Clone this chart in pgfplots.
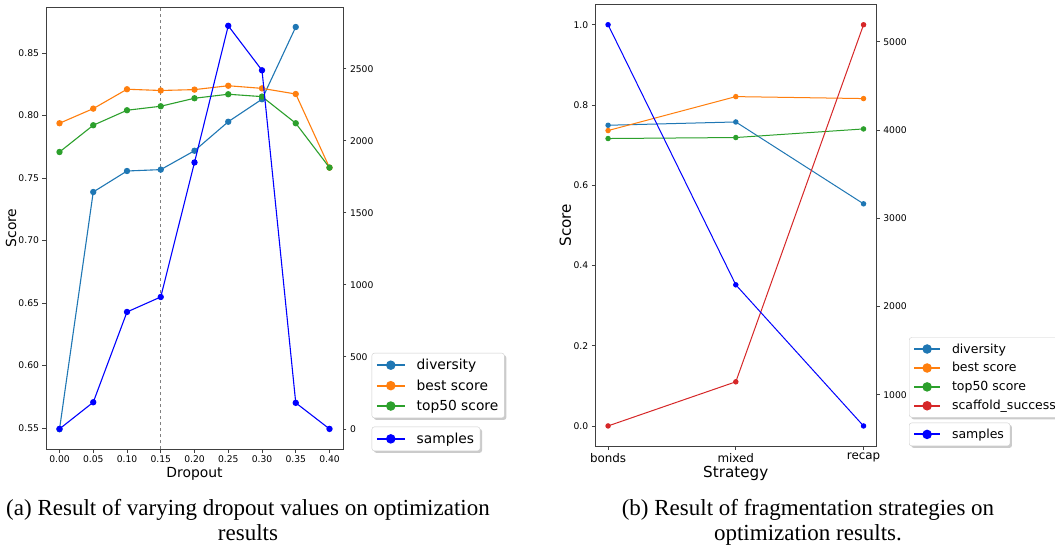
\documentclass[border=0pt]{standalone}
\usepackage{pgfplots}
\pgfplotsset{compat=1.18}
\usepackage{fontspec}
\setmainfont{DejaVu Sans}
\newfontfamily\capfont{Liberation Serif}
\usetikzlibrary{shadows}
\definecolor{tabblue}{HTML}{1F77B4}
\definecolor{taborange}{HTML}{FF7F0E}
\definecolor{tabgreen}{HTML}{2CA02C}
\definecolor{tabred}{HTML}{D62728}
\definecolor{pureblue}{HTML}{0000FF}
\definecolor{spine}{gray}{0.25}
\makeatletter
\tikzset{nopre/.code={\def\tikz@preactions{}}}
\makeatother

\pgfplotsset{
  mplbase/.style={
    scale only axis,
    /pgf/number format/assume math mode=true,
    /pgf/number format/1000 sep={},
    tick align=outside,
    major tick length=3.5pt,
    every tick/.style={spine, line width=0.8pt},
    axis line style={spine, line width=0.8pt},
    scaled ticks=false,
    legend cell align=left,
    legend image post style={line width=1.8pt, mark size=3.8pt},
    legend style={draw=black!20, fill=white, rounded corners=2.5pt,
      drop shadow={shadow xshift=2pt, shadow yshift=-2pt, fill=black!40},
      anchor=north west, inner xsep=4pt, inner ysep=4pt,
      nodes={nopre},
      /tikz/every odd column/.append style={column sep=9pt}},
  },
  hlen/.style={legend image code/.code={\draw[nopre, mark repeat=2,mark phase=2] plot coordinates {(0pt,0pt) (#1/2,0pt) (#1,0pt)};}},
  ser/.style={color=#1, line width=1.1pt, mark=*, mark size=2.6pt, mark options={solid, fill=#1}},
  sers/.style={color=#1, line width=1.0pt, mark=*, mark size=2.2pt, mark options={solid, fill=#1}},
}

\begin{document}
\begin{tikzpicture}
\useasboundingbox (0,0) rectangle (1055pt,544pt);
\fill[white] (0,0) rectangle (1055pt,544pt);

% ---------------- left plot ----------------
\begin{axis}[mplbase, hlen=28pt,
  at={(46pt,95pt)}, anchor=south west, width=297pt, height=442pt,
  xmin=-0.02, xmax=0.42, ymin=0.5332, ymax=0.8868,
  tick pos=left,
  xtick={0,0.05,0.1,0.15,0.2,0.25,0.3,0.35,0.4},
  ytick={0.55,0.6,0.65,0.7,0.75,0.8,0.85},
  x tick label style={/pgf/number format/fixed, /pgf/number format/fixed zerofill, /pgf/number format/precision=2, font=\fontsize{9.2}{11}\selectfont},
  y tick label style={/pgf/number format/fixed, /pgf/number format/fixed zerofill, /pgf/number format/precision=2, font=\fontsize{9.2}{11}\selectfont},
  xlabel={Dropout}, ylabel={Score},
  xlabel style={at={(axis description cs:0.5,-0.057)}, anchor=center, font=\fontsize{13.9}{16}\selectfont},
  ylabel style={at={(axis description cs:-0.118,0.5)}, anchor=center, font=\fontsize{13.9}{16}\selectfont},
  legend style={at={(1.0966,0.2172)}, font=\fontsize{13.8}{16}\selectfont, row sep=4.5pt},
]
\addplot[gray, dashed, line width=1pt, forget plot] coordinates {(0.15,0.5332) (0.15,0.8868)};
\addplot[ser=tabblue] coordinates {(0,0.549) (0.05,0.7388) (0.1,0.7556) (0.15,0.7567) (0.2,0.7718) (0.25,0.795) (0.3,0.813) (0.35,0.8708)};
\addlegendentry{diversity}
\addplot[ser=taborange] coordinates {(0,0.7938) (0.05,0.8055) (0.1,0.821) (0.15,0.820) (0.2,0.8207) (0.25,0.8238) (0.3,0.8217) (0.35,0.8172) (0.4,0.7583)};
\addlegendentry{best score}
\addplot[ser=tabgreen] coordinates {(0,0.7708) (0.05,0.7922) (0.1,0.8042) (0.15,0.8074) (0.2,0.8138) (0.25,0.817) (0.3,0.8151) (0.35,0.7938) (0.4,0.7583)};
\addlegendentry{top50 score}
\end{axis}

\begin{axis}[mplbase, hlen=28pt,
  at={(46pt,95pt)}, anchor=south west, width=297pt, height=442pt,
  xmin=-0.02, xmax=0.42, ymin=-139.5, ymax=2929.5,
  axis y line*=right, axis x line=none,
  ytick={0,500,1000,1500,2000,2500},
  y tick label style={font=\fontsize{9.2}{11}\selectfont},
  legend style={at={(1.0966,0.0505)}, font=\fontsize{13.8}{16}\selectfont},
]
\addplot[ser=pureblue] coordinates {(0,0) (0.05,185) (0.1,812) (0.15,916) (0.2,1850) (0.25,2799) (0.3,2490) (0.35,181) (0.4,0)};
\addlegendentry{samples}
\end{axis}

% ---------------- right plot ----------------
\begin{axis}[mplbase, hlen=26pt,
  at={(595.3pt,98pt)}, anchor=south west, width=281pt, height=441.3pt,
  xmin=-0.1, xmax=2.1, ymin=-0.05, ymax=1.05,
  tick pos=left,
  xtick={0,1,2}, xticklabels={bonds,mixed,recap},
  ytick={0,0.2,0.4,0.6,0.8,1.0},
  x tick label style={font=\fontsize{11.9}{14}\selectfont},
  y tick label style={/pgf/number format/fixed, /pgf/number format/fixed zerofill, /pgf/number format/precision=1, font=\fontsize{9.2}{11}\selectfont},
  xlabel={Strategy}, ylabel={Score},
  xlabel style={at={(axis description cs:0.5,-0.063)}, anchor=center, font=\fontsize{15.2}{18}\selectfont},
  ylabel style={at={(axis description cs:-0.107,0.5)}, anchor=center, font=\fontsize{15.2}{18}\selectfont},
  legend style={at={(1.1164,0.2463)}, font=\fontsize{12.5}{15}\selectfont, row sep=4pt},
]
\addplot[sers=tabblue] coordinates {(0,0.7495) (1,0.7577) (2,0.5537)};
\addlegendentry{diversity}
\addplot[sers=taborange] coordinates {(0,0.7363) (1,0.8209) (2,0.816)};
\addlegendentry{best score}
\addplot[sers=tabgreen] coordinates {(0,0.7164) (1,0.7189) (2,0.7403)};
\addlegendentry{top50 score}
\addplot[sers=tabred] coordinates {(0,0) (1,0.110) (2,1.0)};
\addlegendentry{scaffold\_success}
\end{axis}

\begin{axis}[mplbase, hlen=26pt,
  at={(595.3pt,98pt)}, anchor=south west, width=281pt, height=441.3pt,
  xmin=-0.1, xmax=2.1, ymin=419, ymax=5419,
  axis y line*=right, axis x line=none,
  ytick={1000,2000,3000,4000,5000},
  y tick label style={font=\fontsize{9.2}{11}\selectfont},
  legend style={at={(1.1164,0.0528)}, font=\fontsize{12.5}{15}\selectfont},
]
\addplot[sers=pureblue] coordinates {(0,5192) (1,2245) (2,646)};
\addlegendentry{samples}
\end{axis}

% ---------------- captions ----------------
\node[anchor=base, font=\capfont\fontsize{23}{26}\selectfont] at (248pt,29pt) {(a) Result of varying dropout values on optimization};
\node[anchor=base, font=\capfont\fontsize{23}{26}\selectfont] at (248pt,3.3pt) {results};
\node[anchor=base, font=\capfont\fontsize{23}{26}\selectfont] at (808pt,29pt) {(b) Result of fragmentation strategies on};
\node[anchor=base, font=\capfont\fontsize{23}{26}\selectfont] at (808pt,3.3pt) {optimization results.};
\end{tikzpicture}
\end{document}
